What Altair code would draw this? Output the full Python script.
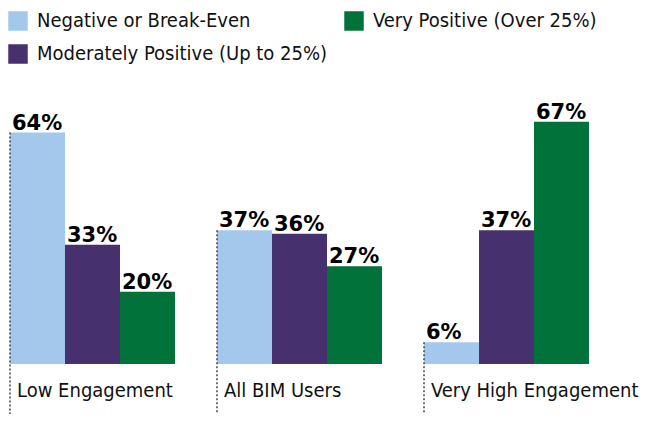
import altair as alt
import pandas as pd

categories = ["Low Engagement", "All BIM Users", "Very High Engagement"]
series = ["Negative or Break-Even", "Moderately Positive (Up to 25%)", "Very Positive (Over 25%)"]
negative = [64, 37, 6]
moderate = [33, 36, 37]
very_pos = [20, 27, 67]
colors = ["#A3C8EB", "#46316E", "#00723A"]

rows = []
for s, vals in zip(series, [negative, moderate, very_pos]):
    for c, v in zip(categories, vals):
        rows.append({"cat": c, "series": s, "value": v, "label": f"{v}%"})
df = pd.DataFrame(rows)
first = df[df["series"] == series[0]]

NARROW = "DejaVu Sans Condensed, Liberation Sans Narrow, sans-serif"
W, H = 579, 264

xscale = alt.Scale(domain=categories, paddingInner=42 / 207, paddingOuter=0)
yscale = alt.Scale(domain=[0, 73])
offscale = alt.Scale(domain=series, paddingInner=0, paddingOuter=0)
legend_order = [series[0], series[2], series[1]]
color_scale = alt.Scale(domain=legend_order, range=[colors[0], colors[2], colors[1]])

base = alt.Chart(df)

bars = base.mark_bar().encode(
    x=alt.X("cat:N", scale=xscale, sort=categories,
            axis=alt.Axis(title=None, domain=False, ticks=False, labelAngle=0,
                          labelAlign="left", labelOffset=-75.5, labelPadding=16,
                          labelFont=NARROW, labelFontSize=20, labelColor="#111",
                          labelBaseline="top", labelLimit=300)),
    xOffset=alt.XOffset("series:N", scale=offscale, sort=series),
    y=alt.Y("value:Q", scale=yscale, axis=None),
    color=alt.Color("series:N", scale=color_scale,
                    legend=alt.Legend(title=None, orient="none", legendX=-2, legendY=-89,
                                      columns=2, direction="horizontal",
                                      symbolType="square", symbolSize=380,
                                      symbolStrokeWidth=0, labelFont=NARROW,
                                      labelFontSize=20, labelColor="#111",
                                      labelOffset=9, rowPadding=13, columnPadding=16,
                                      labelLimit=400)),
)

texts = base.mark_text(align="left", baseline="alphabetic", dx=-25.5, dy=-3,
                       font="DejaVu Sans", fontWeight="bold", fontSize=21,
                       color="#000").encode(
    x=alt.X("cat:N", scale=xscale, sort=categories),
    xOffset=alt.XOffset("series:N", scale=offscale, sort=series),
    y=alt.Y("value:Q", scale=yscale),
    text="label:N",
)

rules = alt.Chart(first).mark_rule(strokeDash=[2, 2], color="#444", strokeWidth=1.5).encode(
    x=alt.X("cat:N", scale=xscale, sort=categories, bandPosition=0),
    y=alt.Y("value:Q", scale=yscale),
    y2=alt.value(H + 52),
)

chart = alt.layer(bars, rules, texts).properties(
    width=W, height=H,
    autosize=alt.AutoSizeParams(type="none"),
    padding={"left": 2, "top": 92, "right": 53, "bottom": 50},
).configure_view(stroke=None).configure_axis(grid=False)

chart.save("out.html", embed_options={"renderer": "svg", "actions": False})
